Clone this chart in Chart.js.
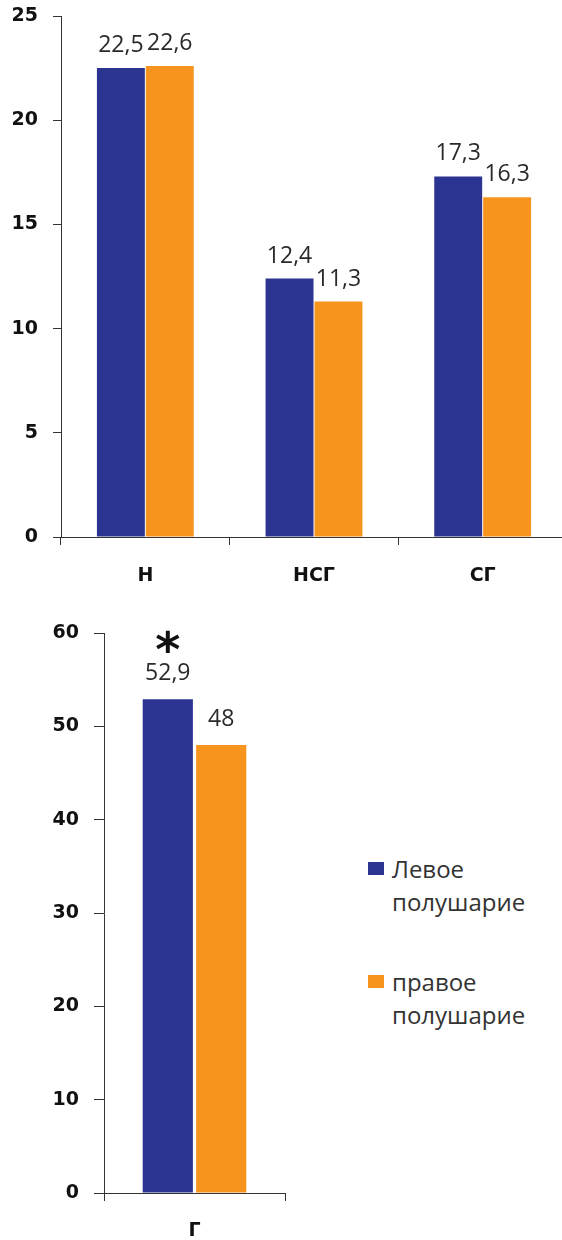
<!DOCTYPE html>
<html>
<head>
<meta charset="utf-8">
<script src="https://cdn.jsdelivr.net/npm/chart.js@4"></script>
<style>
  html, body { margin: 0; padding: 0; background: #fff; }
  body { width: 562px; height: 1240px; position: relative; overflow: hidden; }
  .box { position: absolute; left: 0; overflow: hidden; }
  #legend { position: absolute; left: 368px; top: 0; font-family: "Open Sans", sans-serif; font-size: 24px; color: #333; }
  .item { position: absolute; left: 0; width: 190px; }
  .sw { position: absolute; left: 0; width: 16px; height: 13px; }
  .txt { position: absolute; left: 24px; line-height: 33px; white-space: nowrap; }
</style>
</head>
<body>
<div class="box" style="top:0; width:562px; height:600px;"><canvas id="top" width="568" height="600"></canvas></div>
<div class="box" style="top:600px; width:300px; height:640px;"><canvas id="bottom" width="290" height="640"></canvas></div>
<div id="legend"></div>
<script>
// data
const seriesNames = ['Левое полушарие', 'правое полушарие'];
const seriesColors = ['#2B3591', '#F7941E'];

const topCategories = ['Н', 'НСГ', 'СГ'];
const topLeft = [22.5, 12.4, 17.3];
const topRight = [22.6, 11.3, 16.3];

const bottomCategories = ['Г'];
const bottomLeft = [52.9];
const bottomRight = [48];
const bottomMarksLeft = ['*'];   // significance mark over the left bar

const axisFont = { family: 'DejaVu Sans', size: 19, weight: 'bold' };

// draws the numbers (and the star) over the bars
const valueLabels = {
    id: 'valueLabels',
    afterDatasetsDraw(chart, args, opts) {
        const ctx = chart.ctx;
        ctx.save();
        ctx.textAlign = 'center';
        ctx.textBaseline = 'alphabetic';
        chart.data.datasets.forEach((ds, i) => {
            const meta = chart.getDatasetMeta(i);
            meta.data.forEach((bar, j) => {
                ctx.font = '23px "Open Sans"';
                ctx.fillStyle = '#2a2a2a';
                const txt = String(ds.data[j]).replace('.', ',');
                ctx.fillText(txt, bar.x, bar.y - opts.gap);
                const marks = (opts.marks || [])[i];
                if (marks && marks[j]) {
                    ctx.font = 'bold 48px "DejaVu Sans"';
                    ctx.fillStyle = '#111';
                    ctx.fillText(marks[j], bar.x, bar.y - opts.gap - 14);
                }
            });
        });
        ctx.restore();
    }
};

function makeChart(id, cats, left, right, cfg) {
    return new Chart(document.getElementById(id), {
        type: 'bar',
        data: {
            labels: cats,
            datasets: [
                { label: seriesNames[0], data: left, backgroundColor: seriesColors[0] },
                { label: seriesNames[1], data: right, backgroundColor: seriesColors[1] }
            ]
        },
        options: {
            responsive: false,
            animation: false,
            categoryPercentage: cfg.catPct,
            barPercentage: cfg.barPct,
            layout: { padding: { top: cfg.top, right: cfg.right, left: 0, bottom: 0 } },
            plugins: {
                legend: { display: false },
                tooltip: { enabled: false },
                valueLabels: { gap: cfg.gap, marks: cfg.marks }
            },
            scales: {
                x: {
                    grid: { drawOnChartArea: false, tickLength: 8, color: '#333', offset: true },
                    border: { color: '#333', width: 1 },
                    ticks: { font: axisFont, color: '#111', padding: cfg.xPad },
                    afterFit(s) { s.height = cfg.xHeight; }
                },
                y: {
                    min: 0, max: cfg.max,
                    grid: { drawOnChartArea: false, tickLength: cfg.yTick, color: '#333' },
                    border: { color: '#333', width: 1 },
                    ticks: { stepSize: cfg.step, font: axisFont, color: '#111', padding: 15 },
                    afterFit(s) {
                        s.width = cfg.yWidth;
                        // keep the tick padding from pushing the plot down
                        s.paddingTop = 0;
                        s.paddingBottom = 0;
                    }
                }
            }
        },
        plugins: [valueLabels]
    });
}

makeChart('top', topCategories, topLeft, topRight, {
    max: 25, step: 5, top: 16, right: 1, yWidth: 61, yTick: 8,
    xHeight: 63, xPad: 20, catPct: 0.58, barPct: 0.98, gap: 16
});

makeChart('bottom', bottomCategories, bottomLeft, bottomRight, {
    max: 60, step: 10, top: 33, right: 5, yWidth: 104, yTick: 10,
    xHeight: 47, xPad: 19, catPct: 0.59, barPct: 0.94, gap: 19,
    marks: [bottomMarksLeft, null]
});

// legend to the right of the lower chart
const legend = document.getElementById('legend');
const legendTops = [862, 975];
seriesNames.forEach((name, i) => {
    const words = name.split(' ');
    const item = document.createElement('div');
    item.className = 'item';
    item.style.top = legendTops[i] + 'px';
    item.innerHTML = '<div class="sw" style="background:' + seriesColors[i] + '"></div>' +
        '<div class="txt" style="top:-10px">' + words[0] + '<br>' + words.slice(1).join(' ') + '</div>';
    legend.appendChild(item);
});
</script>
</body>
</html>
